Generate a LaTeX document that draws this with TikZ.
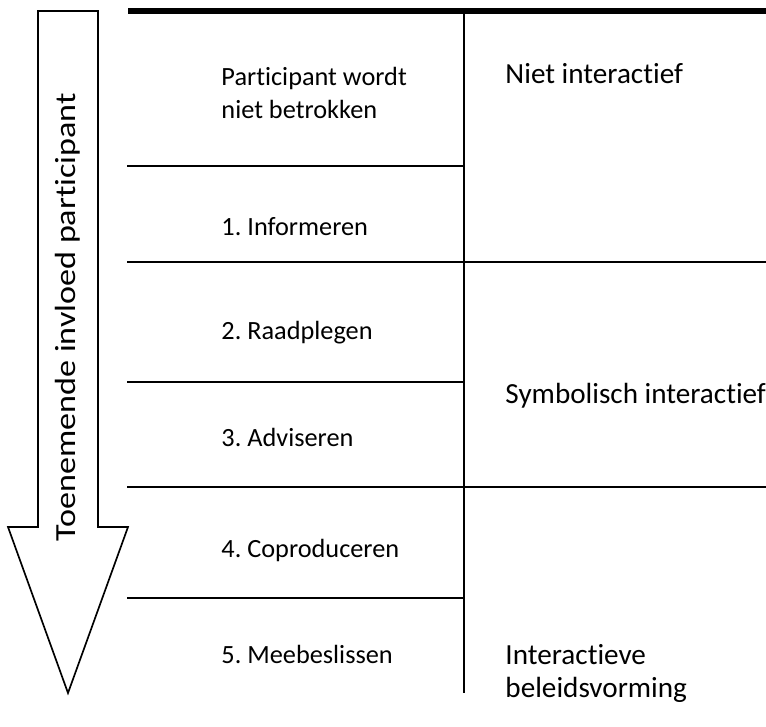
\documentclass[tikz,border=0pt]{standalone}
\usepackage{fontspec}
\setmainfont{Carlito}[Ligatures={NoCommon,NoContextual}]
\usetikzlibrary{positioning}
\frenchspacing

\begin{document}
\begin{tikzpicture}[
  x=0.4184pt,y=-0.4184pt,
  font=\fontsize{11pt}{13.4pt}\selectfont,
  rule/.style={line width=0.7pt},
  toprule/.style={line width=2.1pt},
  lvl/.style={anchor=base west,align=left,inner sep=0pt},
  cat/.style={anchor=base west,align=left,inner sep=0pt,
    font=\fontsize{12.2pt}{13.6pt}\selectfont}
]
\useasboundingbox (0,0) rectangle (766,726);
\clip (0,0) rectangle (766,726);
% pijl links
\draw[rule,line join=miter] (38,11) -- (98,11) -- (98,527) -- (128,527) -- (68,693) -- (8,527) -- (38,527) -- cycle;
\node[rotate=90,xscale=1.17,font=\fontsize{12.2pt}{14pt}\selectfont] (invloed) at (68,317) {Toenemende invloed participant};
% tabel
\draw[toprule] (128,11) -- (766,11);
\draw[rule] (464,11) -- (464,693);
\foreach \y in {166,382,598}
  \draw[rule] (127,\y) -- (464,\y);
\foreach \y in {262,487}
  \draw[rule] (127,\y) -- (766,\y);
% treden
\node[lvl] (nb)   at (221,118) {Participant wordt\\niet betrokken};
\node[lvl] (inf)  at (221,235) {1. Informeren};
\node[lvl] (raad) at (221,339) {2. Raadplegen};
\node[lvl] (adv)  at (221,446) {3. Adviseren};
\node[lvl] (cop)  at (221,557) {4. Coproduceren};
\node[lvl] (mee)  at (221,663) {5. Meebeslissen};
% soort interactie
\node[cat] (niet) at (505,83)  {Niet interactief};
\node[cat] (symb) at (505,403) {Symbolisch interactief};
\node[cat] (ibv)  at (505,697) {Interactieve\\beleidsvorming};
\end{tikzpicture}
\end{document}
